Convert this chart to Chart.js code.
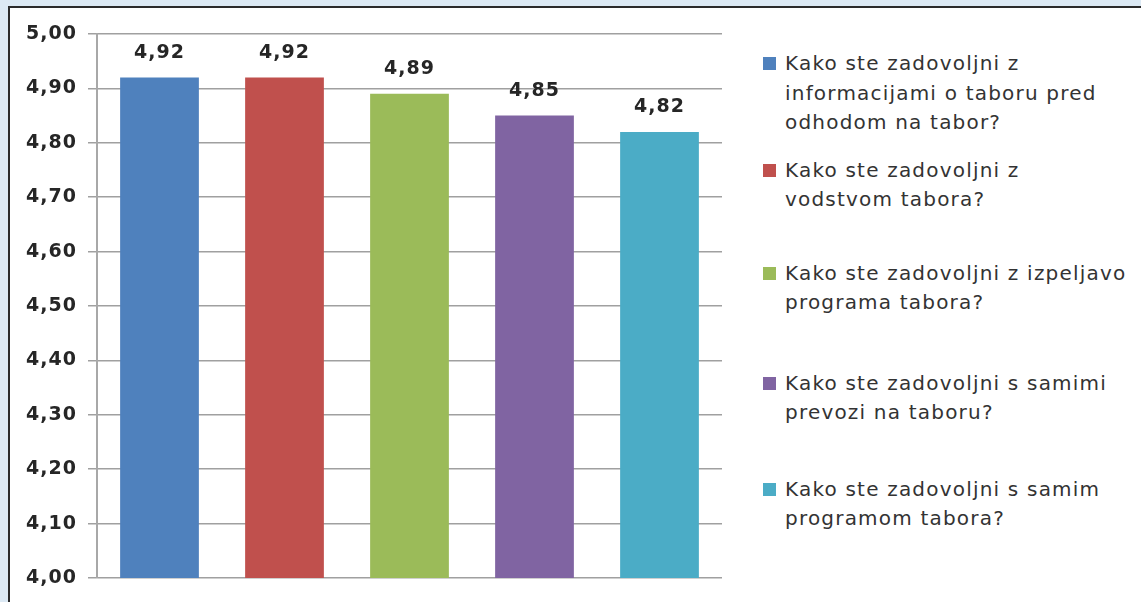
<!DOCTYPE html>
<html>
<head>
<meta charset="utf-8">
<script src="https://cdn.jsdelivr.net/npm/chart.js@4/dist/chart.umd.min.js"></script>
<style>
    html, body { margin: 0; padding: 0; }
    body {
        width: 1141px;
        height: 602px;
        overflow: hidden;
        background: #dce9f4;
        position: relative;
        font-family: "DejaVu Sans", sans-serif;
    }
    #frame {
        position: absolute;
        left: 8px;
        top: 6px;
        width: 1200px;
        height: 700px;
        background: #fff;
        border-left: 2px solid #2b2b2b;
        border-top: 2px solid #2b2b2b;
    }
    #chartBox {
        position: absolute;
        left: 0;
        top: 0;
        width: 730px;
        height: 602px;
    }
    #legend {
        position: absolute;
        left: 763px;
        top: 0;
        width: 378px;
        color: #333;
        font-size: 20px;
        letter-spacing: 1.2px;
        line-height: 29.5px;
    }
    .item { position: relative; padding-left: 22px; white-space: nowrap; }
    .swatch { position: absolute; left: 0; top: 8px; width: 13px; height: 13px; }
</style>
</head>
<body>
<div id="frame"></div>
<div id="chartBox"><canvas id="mainChart"></canvas></div>
<div id="legend"></div>
<script>
const questions = [
    ['Kako ste zadovoljni z', 'informacijami o taboru pred', 'odhodom na tabor?'],
    ['Kako ste zadovoljni z', 'vodstvom tabora?'],
    ['Kako ste zadovoljni z izpeljavo', 'programa tabora?'],
    ['Kako ste zadovoljni s samimi', 'prevozi na taboru?'],
    ['Kako ste zadovoljni s samim', 'programom tabora?']
];
const scores = [4.92, 4.92, 4.89, 4.85, 4.82];
const barColors = ['#4f81bd', '#c0504d', '#9bbb59', '#8064a2', '#4bacc6'];
const legendGaps = [49, 18, 44, 51, 47]; // space above each legend item

const fmt = v => v.toFixed(2).replace('.', ',');

// a bit of letter spacing for canvas text, like the original
const spacing = {
    id: 'spacing',
    beforeDraw(chart) { chart.ctx.letterSpacing = '1px'; }
};

// values above the bars
const valueLabels = {
    id: 'valueLabels',
    afterDatasetsDraw(chart) {
        const ctx = chart.ctx;
        const meta = chart.getDatasetMeta(0);
        ctx.save();
        ctx.font = 'bold 19px "DejaVu Sans"';
        ctx.fillStyle = '#262626';
        ctx.textAlign = 'center';
        ctx.textBaseline = 'bottom';
        meta.data.forEach((bar, i) => {
            ctx.fillText(fmt(scores[i]), bar.x, bar.y - 15);
        });
        ctx.restore();
    }
};

const ctx = document.getElementById('mainChart').getContext('2d');
new Chart(ctx, {
    type: 'bar',
    data: {
        labels: questions,
        datasets: [{
            data: scores,
            backgroundColor: barColors,
            borderWidth: 0,
            categoryPercentage: 1,
            barPercentage: 0.63
        }]
    },
    options: {
        responsive: true,
        maintainAspectRatio: false,
        animation: false,
        layout: { padding: { top: 34, bottom: 24, left: 0, right: 8 } },
        plugins: {
            legend: { display: false },
            tooltip: { enabled: false }
        },
        scales: {
            x: { display: false },
            y: {
                min: 4,
                max: 5,
                afterFit(scale) { scale.width = 97; },
                ticks: {
                    stepSize: 0.1,
                    padding: 11,
                    color: '#262626',
                    font: { family: 'DejaVu Sans', size: 19, weight: 'bold' },
                    callback: v => fmt(v)
                },
                grid: { color: '#a0a0a0', lineWidth: 1.5, tickLength: 9 },
                border: { color: '#a8a8a8', width: 2 }
            }
        }
    },
    plugins: [spacing, valueLabels]
});

// legend on the right
const legend = document.getElementById('legend');
questions.forEach((lines, i) => {
    const item = document.createElement('div');
    item.className = 'item';
    item.style.marginTop = legendGaps[i] + 'px';
    const sw = document.createElement('span');
    sw.className = 'swatch';
    sw.style.background = barColors[i];
    item.appendChild(sw);
    lines.forEach(t => {
        const line = document.createElement('div');
        line.textContent = t;
        item.appendChild(line);
    });
    legend.appendChild(item);
});
</script>
</body>
</html>
